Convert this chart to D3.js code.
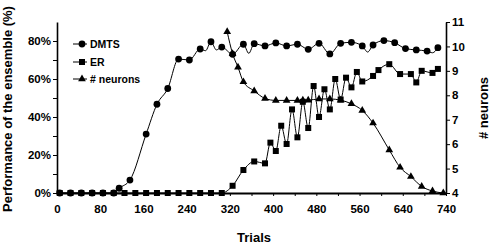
<!DOCTYPE html>
<html>
<head>
<meta charset="utf-8">
<script src="https://cdn.jsdelivr.net/npm/d3@7"></script>
<style>
body { margin: 0; background: #fff; }
text { font-family: "Liberation Sans", Arial, sans-serif; font-weight: bold; fill: #000; }
</style>
</head>
<body>
<div id="graph"></div>
<script>
// DMTS performance (%) - points with markers
var dmtsTrials = [5, 25, 45, 65, 85, 105, 115, 135, 165, 185, 205, 225, 245, 265, 285, 305,
    325, 345, 365, 385, 405, 425, 445, 465, 485, 505, 525, 545, 565, 585, 605, 625, 645, 665, 685, 705];
var dmtsPerf = [0, 0, 0, 0, 0, 0, 2.5, 6.8, 31, 46.7, 55, 70.5, 70, 75.8, 79.6, 76.8,
    73, 78.3, 78.6, 77.4, 79, 77.4, 78.3, 75.6, 78.8, 73.2, 78.8, 79.3, 77.4, 77.9, 80.2, 79.1, 76, 75.3, 74.7, 76.5];
// DMTS line vertices without marker
var dmtsMidTrials = [275, 295, 355, 575, 695];
var dmtsMidPerf = [74.9, 75.3, 73.5, 74.2, 73.8];

// ER performance (%)
var erTrials = [5, 25, 45, 65, 85, 105, 125, 145, 165, 185, 205, 225, 245, 265, 285, 305,
    325, 345, 365, 385, 395, 405, 415, 425, 435, 445, 455, 465, 475, 485, 495, 505, 515, 525, 535, 545, 555, 565,
    585, 595, 615, 635, 655, 665, 675, 695, 705];
var erPerf = [0, 0, 0, 0, 0, 0, 0, 0, 0, 0, 0, 0, 0, 0, 0, 0,
    3.8, 12.1, 16.6, 15.6, 26.5, 22.1, 35.4, 25.8, 44, 29.3, 48, 34.2, 56.3, 40, 54.6, 44, 60, 49.2, 60.7, 55.6, 63.7, 58.7,
    61.6, 64.7, 67.8, 62.6, 62.6, 58.2, 64.3, 63.2, 65.3];

// number of neurons (right axis)
var neuronTrials = [315, 325, 335, 345, 365, 385, 405, 425, 445, 455, 465, 485, 505, 525, 545, 565, 585, 615, 635, 655, 675, 695, 715];
var neuronCount = [10.6, 9.7, 9.15, 8.55, 8.18, 7.87, 7.79, 7.79, 7.79, 7.8, 7.8, 7.85, 7.85, 7.8, 7.65, 7.38, 6.86, 5.76, 5.05, 4.67, 4.27, 4.08, 4.0];

// axis ticks
var xTickTrials = [0, 80, 160, 240, 320, 400, 480, 560, 640, 720];
var xTickLabels = ["0", "80", "160", "240", "320", "400", "480", "560", "640", "740"];
var leftTicks = [0, 20, 40, 60, 80];
var rightTicks = [4, 5, 6, 7, 8, 9, 10, 11];

var legendNames = ["DMTS", "ER", "# neurons"];

var svg = d3.select("#graph").append("svg").attr("width", 490).attr("height", 244);

var xScale = d3.scaleLinear().domain([0, 720]).range([57, 446]);
var yLeft = d3.scaleLinear().domain([0, 90]).range([193, 22]);
var yRight = d3.scaleLinear().domain([4, 11]).range([193, 22]);

// bottom axis
var xAxis = svg.append("g")
    .attr("transform", "translate(0,193)")
    .call(d3.axisBottom(xScale)
        .tickValues(d3.range(0, 721, 40))
        .tickSize(3).tickSizeOuter(0).tickPadding(9)
        .tickFormat(function (d) {
            var i = xTickTrials.indexOf(d);
            return i < 0 ? "" : xTickLabels[i];
        }));
xAxis.select(".domain").attr("stroke-width", 2);

// left axis
var lAxis = svg.append("g")
    .attr("transform", "translate(57,0)")
    .call(d3.axisLeft(yLeft)
        .tickValues(d3.range(0, 81, 10))
        .tickSize(4).tickSizeOuter(0).tickPadding(2)
        .tickFormat(function (d) { return leftTicks.indexOf(d) < 0 ? "" : d + "%"; }));
lAxis.select(".domain").attr("stroke-width", 1.6);

// right axis
var rAxis = svg.append("g")
    .attr("transform", "translate(446,0)")
    .call(d3.axisRight(yRight)
        .tickValues(rightTicks)
        .tickSize(4).tickSizeOuter(0).tickPadding(2)
        .tickFormat(d3.format("d")));
rAxis.select(".domain").attr("stroke-width", 1.6);

svg.selectAll(".tick text").style("font-size", "11.5px").style("font-family", "Liberation Sans, Arial, sans-serif").style("font-weight", "bold");
svg.selectAll(".tick line").attr("stroke", "#000");

// series data
var dmtsLine = dmtsTrials.map(function (t, i) { return [t, dmtsPerf[i]]; })
    .concat(dmtsMidTrials.map(function (t, i) { return [t, dmtsMidPerf[i]]; }))
    .sort(function (a, b) { return a[0] - b[0]; });
var erData = erTrials.map(function (t, i) { return [t, erPerf[i]]; });
var nData = neuronTrials.map(function (t, i) { return [t, neuronCount[i]]; });

var lineLeft = d3.line().curve(d3.curveMonotoneX)
    .x(function (d) { return xScale(d[0]); })
    .y(function (d) { return yLeft(d[1]); });
var lineRight = d3.line().curve(d3.curveMonotoneX)
    .x(function (d) { return xScale(d[0]); })
    .y(function (d) { return yRight(d[1]); });

var triangle = d3.symbol().type(d3.symbolTriangle).size(26);

// neurons
svg.append("path").datum(nData).attr("d", lineRight)
    .attr("fill", "none").attr("stroke", "#000").attr("stroke-width", 1);
svg.selectAll(".tri").data(nData).enter().append("path")
    .attr("transform", function (d) { return "translate(" + xScale(d[0]) + "," + yRight(d[1]) + ")"; })
    .attr("d", triangle).attr("fill", "#000");

// DMTS
svg.append("path").datum(dmtsLine).attr("d", lineLeft)
    .attr("fill", "none").attr("stroke", "#000").attr("stroke-width", 1);
svg.selectAll(".dot").data(dmtsTrials).enter().append("circle")
    .attr("cx", function (d) { return xScale(d); })
    .attr("cy", function (d, i) { return yLeft(dmtsPerf[i]); })
    .attr("r", 3.4).attr("fill", "#000");

// ER
svg.append("path").datum(erData).attr("d", lineLeft)
    .attr("fill", "none").attr("stroke", "#000").attr("stroke-width", 1);
svg.selectAll(".sq").data(erData).enter().append("rect")
    .attr("x", function (d) { return xScale(d[0]) - 3; })
    .attr("y", function (d) { return yLeft(d[1]) - 3; })
    .attr("width", 6).attr("height", 6).attr("fill", "#000");

// legend
var legendY = [44, 62, 79];
legendNames.forEach(function (name, i) {
    var g = svg.append("g").attr("transform", "translate(0," + legendY[i] + ")");
    g.append("line").attr("x1", 73).attr("x2", 87).attr("stroke", "#000").attr("stroke-width", 1);
    if (i == 0) g.append("circle").attr("cx", 82).attr("r", 3.4);
    if (i == 1) g.append("rect").attr("x", 79).attr("y", -3).attr("width", 6).attr("height", 6);
    if (i == 2) g.append("path").attr("transform", "translate(82,0)").attr("d", triangle);
    g.append("text").attr("x", 90).attr("dy", "0.35em").style("font-size", "10.5px").text(name);
});

// axis titles
svg.append("text").attr("x", 254).attr("y", 242).attr("text-anchor", "middle")
    .style("font-size", "13px").text("Trials");
svg.append("text").attr("transform", "translate(12,109) rotate(-90)").attr("text-anchor", "middle")
    .style("font-size", "13px").text("Performance of the ensemble (%)");
svg.append("text").attr("transform", "translate(488,108) rotate(-90)").attr("text-anchor", "middle")
    .style("font-size", "13px").text("# neurons");
</script>
</body>
</html>
